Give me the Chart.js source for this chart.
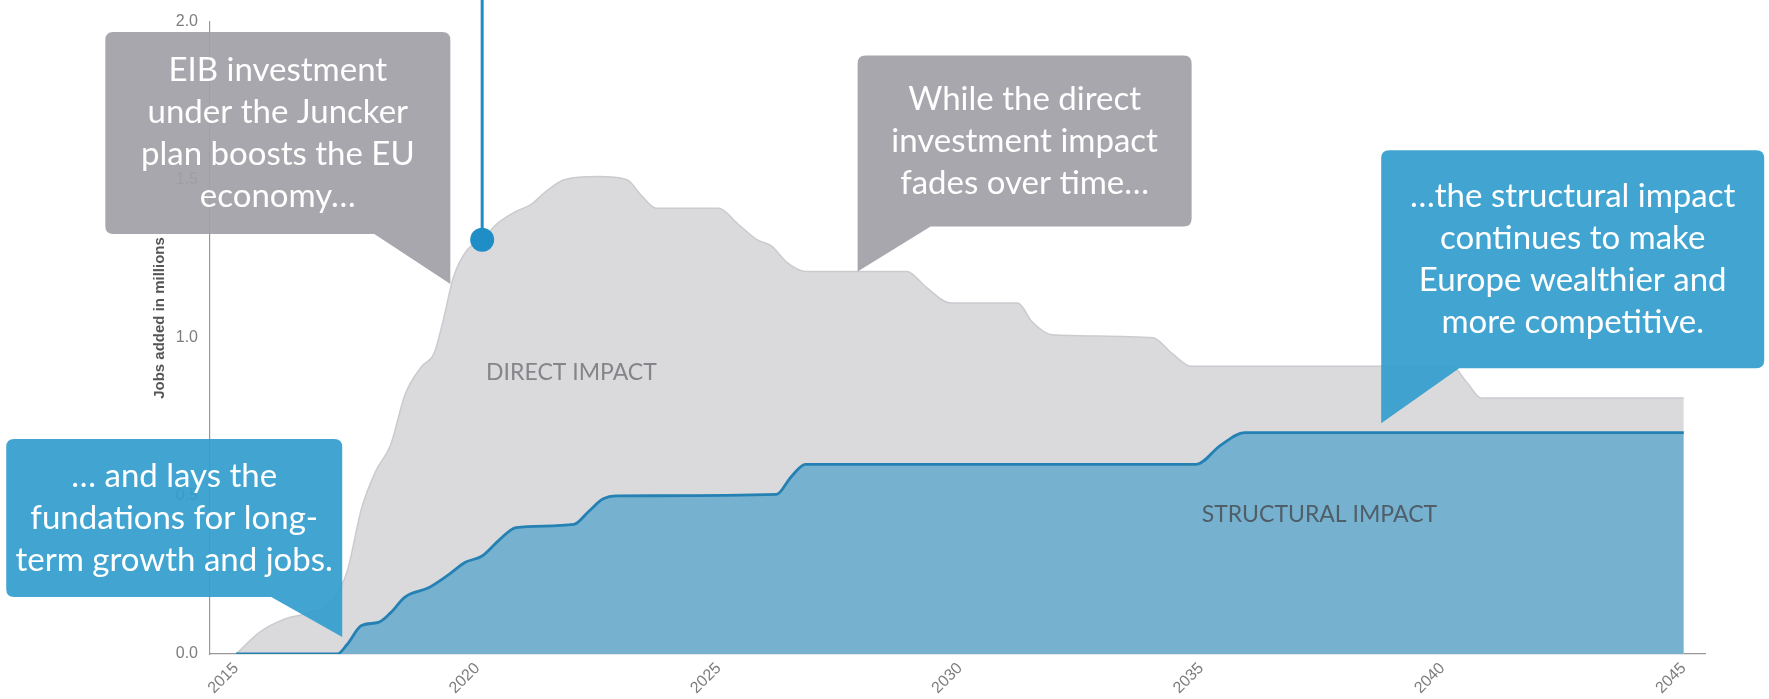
<!DOCTYPE html>
<html>
<head>
<meta charset="utf-8">
<script src="https://cdn.jsdelivr.net/npm/chart.js@4.4.0/dist/chart.umd.min.js"></script>
<style>
  html, body { margin: 0; padding: 0; background: #fff; }
  #wrap { width: 1769px; height: 699px; }
</style>
</head>
<body>
<div id="wrap"><canvas id="chart" width="1769" height="699"></canvas></div>
<script>
// direct impact (grey area)
const directYears = [2015, 2015.5, 2016, 2016.5, 2017, 2017.3, 2017.6, 2017.9, 2018.2, 2018.5, 2018.85, 2019.1,
  2019.3, 2019.5, 2019.8, 2020.1, 2020.4, 2020.8, 2021.1, 2021.4, 2021.8, 2022.5, 2023.1, 2023.4, 2023.7,
  2025, 2025.4, 2025.8, 2026.1, 2026.4, 2026.8, 2028.9, 2029.3, 2029.8, 2031.2, 2031.5, 2031.9, 2034,
  2034.4, 2034.8, 2040.2, 2040.5, 2040.8, 2045];
const directJobs = [0, 0.07, 0.11, 0.13, 0.17, 0.26, 0.46, 0.58, 0.66, 0.82, 0.91, 0.95,
  1.06, 1.19, 1.28, 1.31, 1.36, 1.40, 1.42, 1.46, 1.50, 1.51, 1.50, 1.45, 1.41,
  1.41, 1.36, 1.31, 1.29, 1.24, 1.21, 1.21, 1.16, 1.11, 1.11, 1.05, 1.01, 1.00,
  0.95, 0.91, 0.91, 0.86, 0.81, 0.81];

// structural impact (blue area)
const structYears = [2015, 2017.1, 2017.3, 2017.6, 2017.95, 2018.2, 2018.5, 2019, 2019.4, 2019.75, 2020.1,
  2020.45, 2020.8, 2022, 2022.3, 2022.6, 2022.9, 2026.2, 2026.5, 2026.8, 2034.9, 2035.4, 2035.9, 2045];
const structJobs = [0, 0, 0.03, 0.09, 0.10, 0.13, 0.18, 0.21, 0.25, 0.29, 0.31,
  0.36, 0.40, 0.41, 0.45, 0.49, 0.50, 0.505, 0.56, 0.60, 0.60, 0.66, 0.70, 0.70];

const xTickYears = [2015, 2020, 2025, 2030, 2035, 2040, 2045];
const yTickValues = [0, 0.5, 1, 1.5, 2];

const markerYear = 2020.1;
const markerJobs = 1.31;

const calloutTexts = [
  ['EIB investment', 'under the Juncker', 'plan boosts the EU', 'economy…'],
  ['While the direct', 'investment impact', 'fades over time…'],
  ['…the structural impact', 'continues to make', 'Europe wealthier and', 'more competitive.'],
  ['… and lays the', 'fundations for long-', 'term growth and jobs.']
];
const calloutAnchorYears = [2019.44, 2027.88, 2038.73, 2017.2];
const calloutAnchorJobs = [1.17, 1.21, 0.73, 0.054];

// callout geometry relative to the tail tip (pixels)
const calloutLayout = [
  { dx: -345, dy: -252, w: 345, h: 202, tail: 'right', tw: 76, color: 'rgba(160,160,167,0.93)' },
  { dx: 0, dy: -216, w: 334, h: 171, tail: 'left', tw: 73, color: 'rgba(160,160,167,0.93)' },
  { dx: 0, dy: -273, w: 383, h: 218, tail: 'left', tw: 78, color: 'rgba(52,158,206,0.93)' },
  { dx: -336, dy: -198, w: 336, h: 158, tail: 'right', tw: 71, color: 'rgba(52,158,206,0.93)' }
];

const areaLabels = [
  { text: 'DIRECT IMPACT', year: 2021.95, jobs: 0.89, color: '#858589' },
  { text: 'STRUCTURAL IMPACT', year: 2037.45, jobs: 0.44, color: '#4f5e68' }
];

const zip = (xs, ys) => xs.map((x, i) => ({ x: x, y: ys[i] }));

function roundRect(ctx, x, y, w, h, r) {
  ctx.moveTo(x + r, y);
  ctx.lineTo(x + w - r, y);
  ctx.quadraticCurveTo(x + w, y, x + w, y + r);
  ctx.lineTo(x + w, y + h - r);
  ctx.quadraticCurveTo(x + w, y + h, x + w - r, y + h);
  ctx.lineTo(x + r, y + h);
  ctx.quadraticCurveTo(x, y + h, x, y + h - r);
  ctx.lineTo(x, y + r);
  ctx.quadraticCurveTo(x, y, x + r, y);
}

const overlays = {
  id: 'overlays',
  beforeDatasetsDraw(chart) {
    const ctx = chart.ctx, xs = chart.scales.x, ys = chart.scales.y;
    const px = xs.getPixelForValue(markerYear), py = ys.getPixelForValue(markerJobs);
    ctx.save();
    ctx.strokeStyle = '#1f8dc6';
    ctx.lineWidth = 3;
    ctx.beginPath();
    ctx.moveTo(px, 0);
    ctx.lineTo(px, py);
    ctx.stroke();
    ctx.restore();
  },
  afterDatasetsDraw(chart) {
    const ctx = chart.ctx, xs = chart.scales.x, ys = chart.scales.y;
    ctx.save();
    ctx.font = '23px Lato';
    ctx.textAlign = 'center';
    ctx.textBaseline = 'middle';
    areaLabels.forEach(l => {
      ctx.fillStyle = l.color;
      ctx.fillText(l.text, xs.getPixelForValue(l.year), ys.getPixelForValue(l.jobs));
    });
    ctx.restore();
  },
  afterDraw(chart) {
    const ctx = chart.ctx, xs = chart.scales.x, ys = chart.scales.y;
    ctx.save();
    // y axis title
    ctx.translate(160, 318);
    ctx.rotate(-Math.PI / 2);
    ctx.font = 'bold 15px "Liberation Sans", Arial';
    ctx.fillStyle = '#555';
    ctx.textAlign = 'center';
    ctx.textBaseline = 'middle';
    ctx.fillText('Jobs added in millions', 0, 0);
    ctx.restore();

    calloutTexts.forEach((lines, i) => {
      const L = calloutLayout[i];
      const tx = xs.getPixelForValue(calloutAnchorYears[i]);
      const ty = ys.getPixelForValue(calloutAnchorJobs[i]);
      const bx = tx + L.dx, by = ty + L.dy;
      const bottom = by + L.h;
      ctx.save();
      ctx.fillStyle = L.color;
      ctx.beginPath();
      roundRect(ctx, bx, by, L.w, L.h, 8);
      if (L.tail === 'right') {
        ctx.moveTo(bx + L.w, bottom - 8);
        ctx.lineTo(bx + L.w, ty);
        ctx.lineTo(bx + L.w - L.tw, bottom);
        ctx.lineTo(bx + L.w - 8, bottom);
      } else {
        ctx.moveTo(bx, bottom - 8);
        ctx.lineTo(bx + 8, bottom);
        ctx.lineTo(bx + L.tw, bottom);
        ctx.lineTo(bx, ty);
      }
      ctx.fill('nonzero');
      ctx.fillStyle = '#fff';
      ctx.font = '33px Lato';
      ctx.textAlign = 'center';
      ctx.textBaseline = 'middle';
      const lh = 42;
      const cy = by + L.h / 2 - (lines.length - 1) * lh / 2;
      lines.forEach((t, k) => ctx.fillText(t, bx + L.w / 2, cy + k * lh));
      ctx.restore();
    });
  }
};

function draw() {
  Chart.defaults.font.family = '"Liberation Sans", Arial, sans-serif';
  Chart.defaults.color = '#888';
  new Chart(document.getElementById('chart'), {
    type: 'line',
    data: {
      datasets: [
        {
          label: 'marker',
          data: [{ x: markerYear, y: markerJobs }],
          showLine: false,
          pointRadius: 12,
          pointBackgroundColor: '#1f8dc6',
          pointBorderWidth: 0,
          order: 0
        },
        {
          label: 'Structural impact',
          data: zip(structYears, structJobs),
          borderColor: '#2580b3',
          borderWidth: 2.8,
          backgroundColor: '#76b2d0',
          fill: 'origin',
          pointRadius: 0,
          cubicInterpolationMode: 'monotone',
          order: 1
        },
        {
          label: 'Direct impact',
          data: zip(directYears, directJobs),
          borderColor: '#cbcbcf',
          borderWidth: 1.5,
          backgroundColor: '#dadadd',
          fill: 'origin',
          pointRadius: 0,
          cubicInterpolationMode: 'monotone',
          order: 2
        }
      ]
    },
    options: {
      responsive: false,
      animation: false,
      devicePixelRatio: 1,
      layout: { padding: { top: 19, right: 64, left: 0, bottom: 0 } },
      plugins: { legend: { display: false }, tooltip: { enabled: false } },
      scales: {
        x: {
          type: 'linear',
          min: 2014.46,
          max: 2045.44,
          grid: { display: false, drawTicks: false },
          border: { color: '#999', width: 1.2 },
          afterBuildTicks: s => { s.ticks = xTickYears.map(v => ({ value: v })); },
          afterFit: s => { s.height = 45; },
          ticks: {
            autoSkip: false,
            minRotation: 45,
            maxRotation: 45,
            padding: 5,
            color: '#7d7d7d',
            font: { size: 16 },
            callback: v => String(v)
          }
        },
        y: {
          min: 0,
          max: 2,
          grid: { display: false, drawTicks: false },
          border: { color: '#999', width: 1.2 },
          afterBuildTicks: s => { s.ticks = yTickValues.map(v => ({ value: v })); },
          afterFit: s => { s.width = 210; },
          ticks: {
            padding: 12,
            color: '#7d7d7d',
            font: { size: 16 },
            callback: v => Number(v).toFixed(1)
          }
        }
      }
    },
    plugins: [overlays]
  });
}

if (document.fonts && document.fonts.load) {
  Promise.all([document.fonts.load('33px Lato'), document.fonts.load('bold 15px "Liberation Sans"')])
    .then(draw, draw);
} else {
  draw();
}
</script>
</body>
</html>
